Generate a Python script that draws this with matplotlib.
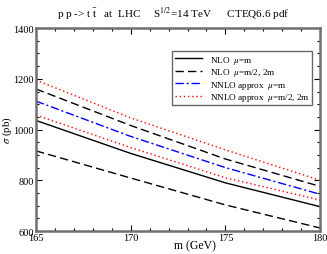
import numpy as np
import matplotlib
matplotlib.use("Agg")
from matplotlib import pyplot as plt

plt.rcParams['font.family'] = ['Liberation Serif', 'DejaVu Serif']
plt.rcParams['mathtext.fontset'] = 'stix'

# top-quark mass (GeV)
mass = [165, 170, 175, 180]

# cross sections (pb)
nlo_central = [1036, 906, 790, 696]
nlo_upper = [1160, 1016, 884, 776]
nlo_lower = [916, 809, 703, 612]
nnlo_central = [1112, 973, 850, 745]
nnlo_upper = [1195, 1046, 920, 800]
nnlo_lower = [1057, 929, 810, 722]

fig = plt.figure(figsize=(3.27, 2.55), dpi=100)
ax = fig.add_axes([0.110, 0.090, 0.869, 0.796])

ax.plot(mass, nlo_central, color='black', lw=1.0, label=r'NLO  $\mu$=m')
ax.plot(mass, nlo_upper, color='black', lw=1.0, ls=(0, (6, 3)), label=r'NLO  $\mu$=m/2, 2m')
ax.plot(mass, nlo_lower, color='black', lw=1.0, ls=(0, (6, 3)))
ax.plot(mass, nnlo_central, color='blue', lw=1.0, ls=(0, (6, 2, 1.5, 2)),
        label=r'NNLO approx  $\mu$=m')
ax.plot(mass, nnlo_upper, color='red', lw=1.0, ls=(0, (1, 2)),
        label=r'NNLO approx  $\mu$=m/2, 2m')
ax.plot(mass, nnlo_lower, color='red', lw=1.0, ls=(0, (1, 2)))

ax.set_xlim(165, 180)
ax.set_ylim(600, 1400)
ax.set_xticks([165, 170, 175, 180])
ax.set_xticks(np.arange(165, 181, 1), minor=True)
ax.set_yticks([600, 800, 1000, 1200, 1400])
ax.set_yticks(np.arange(600, 1401, 50), minor=True)
ax.tick_params(which='both', direction='in', top=True, right=True, labelsize=7.5)
ax.tick_params(axis='x', pad=1.5)
ax.tick_params(axis='y', pad=1.5)
ax.tick_params(which='major', length=4, width=0.8)
ax.tick_params(which='minor', length=2, width=0.8)
for s in ax.spines.values():
    s.set_color('#707070')
    s.set_linewidth(1.8)

ax.set_xlabel('m (GeV)', fontsize=8.5, va='top')
ax.xaxis.set_label_coords(0.56, -0.042)
ax.set_ylabel(r'$\sigma$ (pb)', fontsize=7.8)
ax.yaxis.set_label_coords(-0.078, 0.5)

fig.text(0.53, 0.945, 'p p -> t $\\bar{\\mathrm{t}}$   at  LHC     S$^{1/2}$=14 TeV      CTEQ6.6 pdf',
         ha='center', va='center', fontsize=8)

leg = ax.legend(loc='upper right', bbox_to_anchor=(0.97, 0.885), fontsize=6.6,
                frameon=True, fancybox=False, handlelength=3.0, handletextpad=0.8,
                borderpad=0.25, labelspacing=0.05, borderaxespad=0)
leg.get_frame().set_edgecolor('#444444')
leg.get_frame().set_linewidth(1.0)

fig.savefig('out.png', dpi=100)
